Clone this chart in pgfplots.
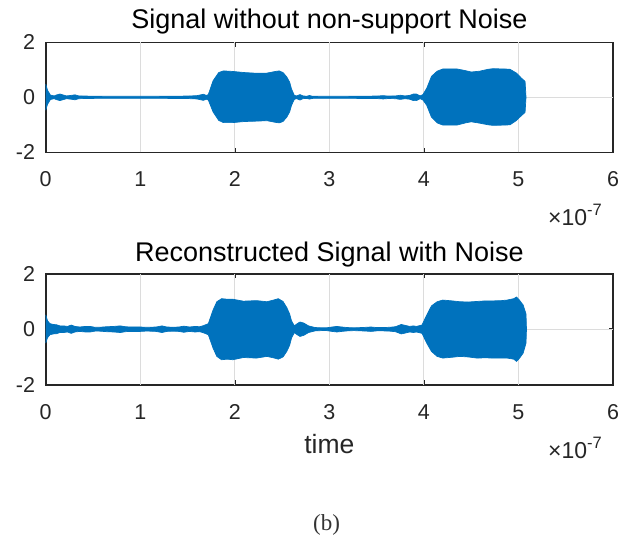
\documentclass[border=0pt]{standalone}
\usepackage{pgfplots}
\pgfplotsset{compat=1.18}
\usepackage{fontspec}
\setmainfont{Liberation Sans}
\newfontfamily\seriffont{Liberation Serif}
\definecolor{mblue}{RGB}{0,114,189}
\definecolor{axgray}{RGB}{38,38,38}
\definecolor{gridgray}{RGB}{220,220,220}
\pgfplotsset{
  mstyle/.style={
    scale only axis, width=567.3bp,
    xmin=0, xmax=6, ymin=-2, ymax=2,
    xtick={0,1,2,3,4,5,6}, xticklabels={0,1,2,3,4,5,6},
    ytick={-2,0,2}, yticklabels={-2,0,2},
    tick align=inside, major tick length=4.5bp,
    axis line style={draw=axgray, line width=1.6bp},
    every tick/.style={draw=axgray, line width=1.5bp},
    grid=none,
    extra x ticks={1,2,3,4,5}, extra x tick labels={},
    extra y ticks={0}, extra y tick labels={},
    extra tick style={grid=major, major tick length=0pt},
    major grid style={draw=gridgray, line width=1.1bp},
    every tick label/.append style={inner sep=0pt, text=axgray, font=\fontsize{21.5bp}{25bp}\selectfont},
    xticklabel style={anchor=base, yshift=-34.4bp},
    yticklabel style={anchor=east, xshift=-10.5bp},
    anchor=south west,
  }
}
\begin{document}
\begin{tikzpicture}
\path[use as bounding box] (0bp,0bp) rectangle (634bp,-538bp);
\begin{axis}[mstyle, at={(45.7bp,-152.3bp)}, height=110bp]
\addplot[fill=mblue, draw=mblue, line width=0.7bp] coordinates {
(0,0.48) (0.02,0.25) (0.05,0.08) (0.09,0.05) (0.11,0.08) (0.15,0.12) (0.19,0.08) (0.22,0.05) (0.27,0.07) (0.31,0.09) (0.35,0.05) (0.5,0.04) (0.8,0.035) (1.0,0.035) (1.3,0.04) (1.5,0.045) (1.6,0.06) (1.667,0.11) (1.70,0.07) (1.72,0.1) (1.77,0.6) (1.83,0.9) (1.88,0.96) (1.98,0.94) (2.1,0.9) (2.2,0.88) (2.34,0.88) (2.43,0.94) (2.47,0.96) (2.51,0.9) (2.55,0.74) (2.58,0.55) (2.60,0.3) (2.63,0.07) (2.655,0.05) (2.69,0.1) (2.72,0.05) (2.76,0.04) (2.79,0.065) (2.82,0.04) (3.0,0.035) (3.3,0.04) (3.5,0.045) (3.57,0.06) (3.62,0.045) (3.7,0.05) (3.75,0.075) (3.8,0.05) (3.85,0.07) (3.89,0.12) (3.92,0.12) (3.96,0.05) (3.99,0.1) (4.03,0.33) (4.08,0.76) (4.14,0.95) (4.2,1.03) (4.35,1.03) (4.44,0.97) (4.5,0.92) (4.59,0.95) (4.68,1.02) (4.73,1.04) (4.85,1.03) (4.91,1.02) (4.98,0.88) (5.03,0.7) (5.07,0.58)
(5.08,0)
(5.07,-0.55) (5.03,-0.67) (4.98,-0.84) (4.91,-1.0) (4.85,-1.01) (4.73,-1.02) (4.68,-1.0) (4.59,-0.94) (4.5,-0.89) (4.44,-0.93) (4.35,-1.01) (4.2,-1.01) (4.14,-0.93) (4.08,-0.72) (4.03,-0.29) (3.99,-0.1) (3.96,-0.05) (3.92,-0.12) (3.89,-0.12) (3.85,-0.07) (3.8,-0.05) (3.75,-0.075) (3.7,-0.05) (3.62,-0.045) (3.57,-0.06) (3.5,-0.045) (3.3,-0.04) (3.0,-0.035) (2.82,-0.04) (2.79,-0.065) (2.76,-0.04) (2.72,-0.05) (2.69,-0.1) (2.655,-0.05) (2.63,-0.07) (2.60,-0.29) (2.58,-0.53) (2.55,-0.72) (2.51,-0.88) (2.47,-0.93) (2.43,-0.91) (2.34,-0.85) (2.2,-0.87) (2.1,-0.88) (1.98,-0.92) (1.88,-0.92) (1.83,-0.84) (1.77,-0.53) (1.72,-0.1) (1.70,-0.07) (1.667,-0.11) (1.6,-0.06) (1.5,-0.045) (1.3,-0.04) (1.0,-0.035) (0.8,-0.035) (0.5,-0.04) (0.35,-0.05) (0.31,-0.09) (0.27,-0.07) (0.22,-0.05) (0.19,-0.08) (0.15,-0.12) (0.11,-0.08) (0.09,-0.05) (0.05,-0.08) (0.02,-0.25) (0,-0.47)
};
\end{axis}
\begin{axis}[mstyle, at={(45.7bp,-384.7bp)}, height=111bp]
\addplot[fill=mblue, draw=mblue, line width=0.7bp] coordinates {
(0,0.52) (0.02,0.3) (0.045,0.2) (0.08,0.17) (0.116,0.16) (0.15,0.12) (0.19,0.12) (0.23,0.1) (0.27,0.15) (0.31,0.1) (0.36,0.08) (0.42,0.1) (0.47,0.1) (0.52,0.07) (0.57,0.07) (0.65,0.09) (0.72,0.1) (0.79,0.12) (0.84,0.09) (0.89,0.08) (0.95,0.08) (1.0,0.08) (1.05,0.07) (1.1,0.07) (1.17,0.08) (1.23,0.12) (1.28,0.08) (1.35,0.07) (1.41,0.08) (1.46,0.11) (1.52,0.08) (1.58,0.1) (1.63,0.09) (1.67,0.13) (1.72,0.2) (1.77,0.69) (1.81,0.99) (1.86,1.1) (1.92,1.08) (1.98,1.08) (2.09,1.01) (2.23,1.03) (2.34,0.99) (2.42,1.06) (2.46,1.1) (2.51,1.0) (2.55,0.78) (2.58,0.55) (2.60,0.3) (2.63,0.12) (2.66,0.2) (2.69,0.26) (2.73,0.22) (2.78,0.12) (2.85,0.06) (2.92,0.05) (2.97,0.05) (3.03,0.08) (3.08,0.1) (3.13,0.08) (3.19,0.06) (3.26,0.05) (3.34,0.06) (3.40,0.07) (3.44,0.08) (3.50,0.06) (3.57,0.06) (3.64,0.07) (3.70,0.09) (3.76,0.17) (3.80,0.14) (3.85,0.1) (3.89,0.12) (3.92,0.1) (3.98,0.15) (4.03,0.51) (4.08,0.84) (4.14,0.99) (4.2,1.05) (4.30,1.02) (4.38,0.99) (4.47,0.98) (4.56,1.0) (4.65,1.02) (4.73,1.02) (4.82,1.03) (4.88,1.05) (4.95,1.1) (4.98,1.16) (5.01,1.05) (5.05,0.87) (5.08,0.55)
(5.085,0)
(5.08,-0.5) (5.05,-0.86) (5.01,-1.05) (4.98,-1.16) (4.95,-1.08) (4.88,-1.04) (4.82,-1.04) (4.73,-1.04) (4.65,-1.03) (4.56,-1.04) (4.47,-1.0) (4.38,-0.98) (4.30,-1.01) (4.2,-1.04) (4.14,-0.98) (4.08,-0.8) (4.03,-0.5) (3.98,-0.15) (3.92,-0.1) (3.89,-0.12) (3.85,-0.1) (3.80,-0.14) (3.76,-0.17) (3.70,-0.09) (3.64,-0.07) (3.57,-0.06) (3.50,-0.06) (3.44,-0.08) (3.40,-0.07) (3.34,-0.06) (3.26,-0.05) (3.19,-0.06) (3.13,-0.08) (3.08,-0.1) (3.03,-0.08) (2.97,-0.05) (2.92,-0.05) (2.85,-0.06) (2.78,-0.12) (2.73,-0.22) (2.69,-0.26) (2.66,-0.2) (2.63,-0.12) (2.60,-0.32) (2.58,-0.58) (2.55,-0.8) (2.51,-1.0) (2.46,-1.08) (2.42,-1.04) (2.34,-0.98) (2.23,-1.04) (2.09,-1.02) (1.98,-1.1) (1.92,-1.08) (1.86,-1.1) (1.81,-0.98) (1.77,-0.68) (1.72,-0.2) (1.67,-0.13) (1.63,-0.09) (1.58,-0.1) (1.52,-0.08) (1.46,-0.11) (1.41,-0.08) (1.35,-0.07) (1.28,-0.08) (1.23,-0.12) (1.17,-0.08) (1.1,-0.07) (1.05,-0.07) (1.0,-0.08) (0.95,-0.08) (0.89,-0.08) (0.84,-0.09) (0.79,-0.12) (0.72,-0.1) (0.65,-0.09) (0.57,-0.07) (0.52,-0.07) (0.47,-0.1) (0.42,-0.1) (0.36,-0.08) (0.31,-0.1) (0.27,-0.15) (0.23,-0.1) (0.19,-0.12) (0.15,-0.12) (0.116,-0.16) (0.08,-0.17) (0.045,-0.2) (0.02,-0.3) (0,-0.5)
};
\end{axis}
\node[anchor=base, inner sep=0pt, font=\fontsize{27bp}{31bp}\selectfont] at (329.4bp,-28.3bp) {Signal without non-support Noise};
\node[anchor=base, inner sep=0pt, font=\fontsize{27bp}{31bp}\selectfont] at (329.4bp,-261.7bp) {Reconstructed Signal with Noise};
\node[anchor=base, inner sep=0pt, text=axgray, font=\fontsize{26.5bp}{30bp}\selectfont] at (329.4bp,-453bp) {time};
\node[anchor=base west, inner sep=0pt, text=axgray, font=\fontsize{23bp}{27bp}\selectfont] at (548bp,-225.6bp) {×10\raisebox{10bp}{\fontsize{16.5bp}{19bp}\selectfont -7}};
\node[anchor=base west, inner sep=0pt, text=axgray, font=\fontsize{23bp}{27bp}\selectfont] at (548bp,-458bp) {×10\raisebox{10bp}{\fontsize{16.5bp}{19bp}\selectfont -7}};
\node[anchor=center, inner sep=0pt, text=black!80, font=\seriffont\fontsize{23bp}{27bp}\selectfont] at (326.5bp,-525bp) {(b)};
\end{tikzpicture}
\end{document}
